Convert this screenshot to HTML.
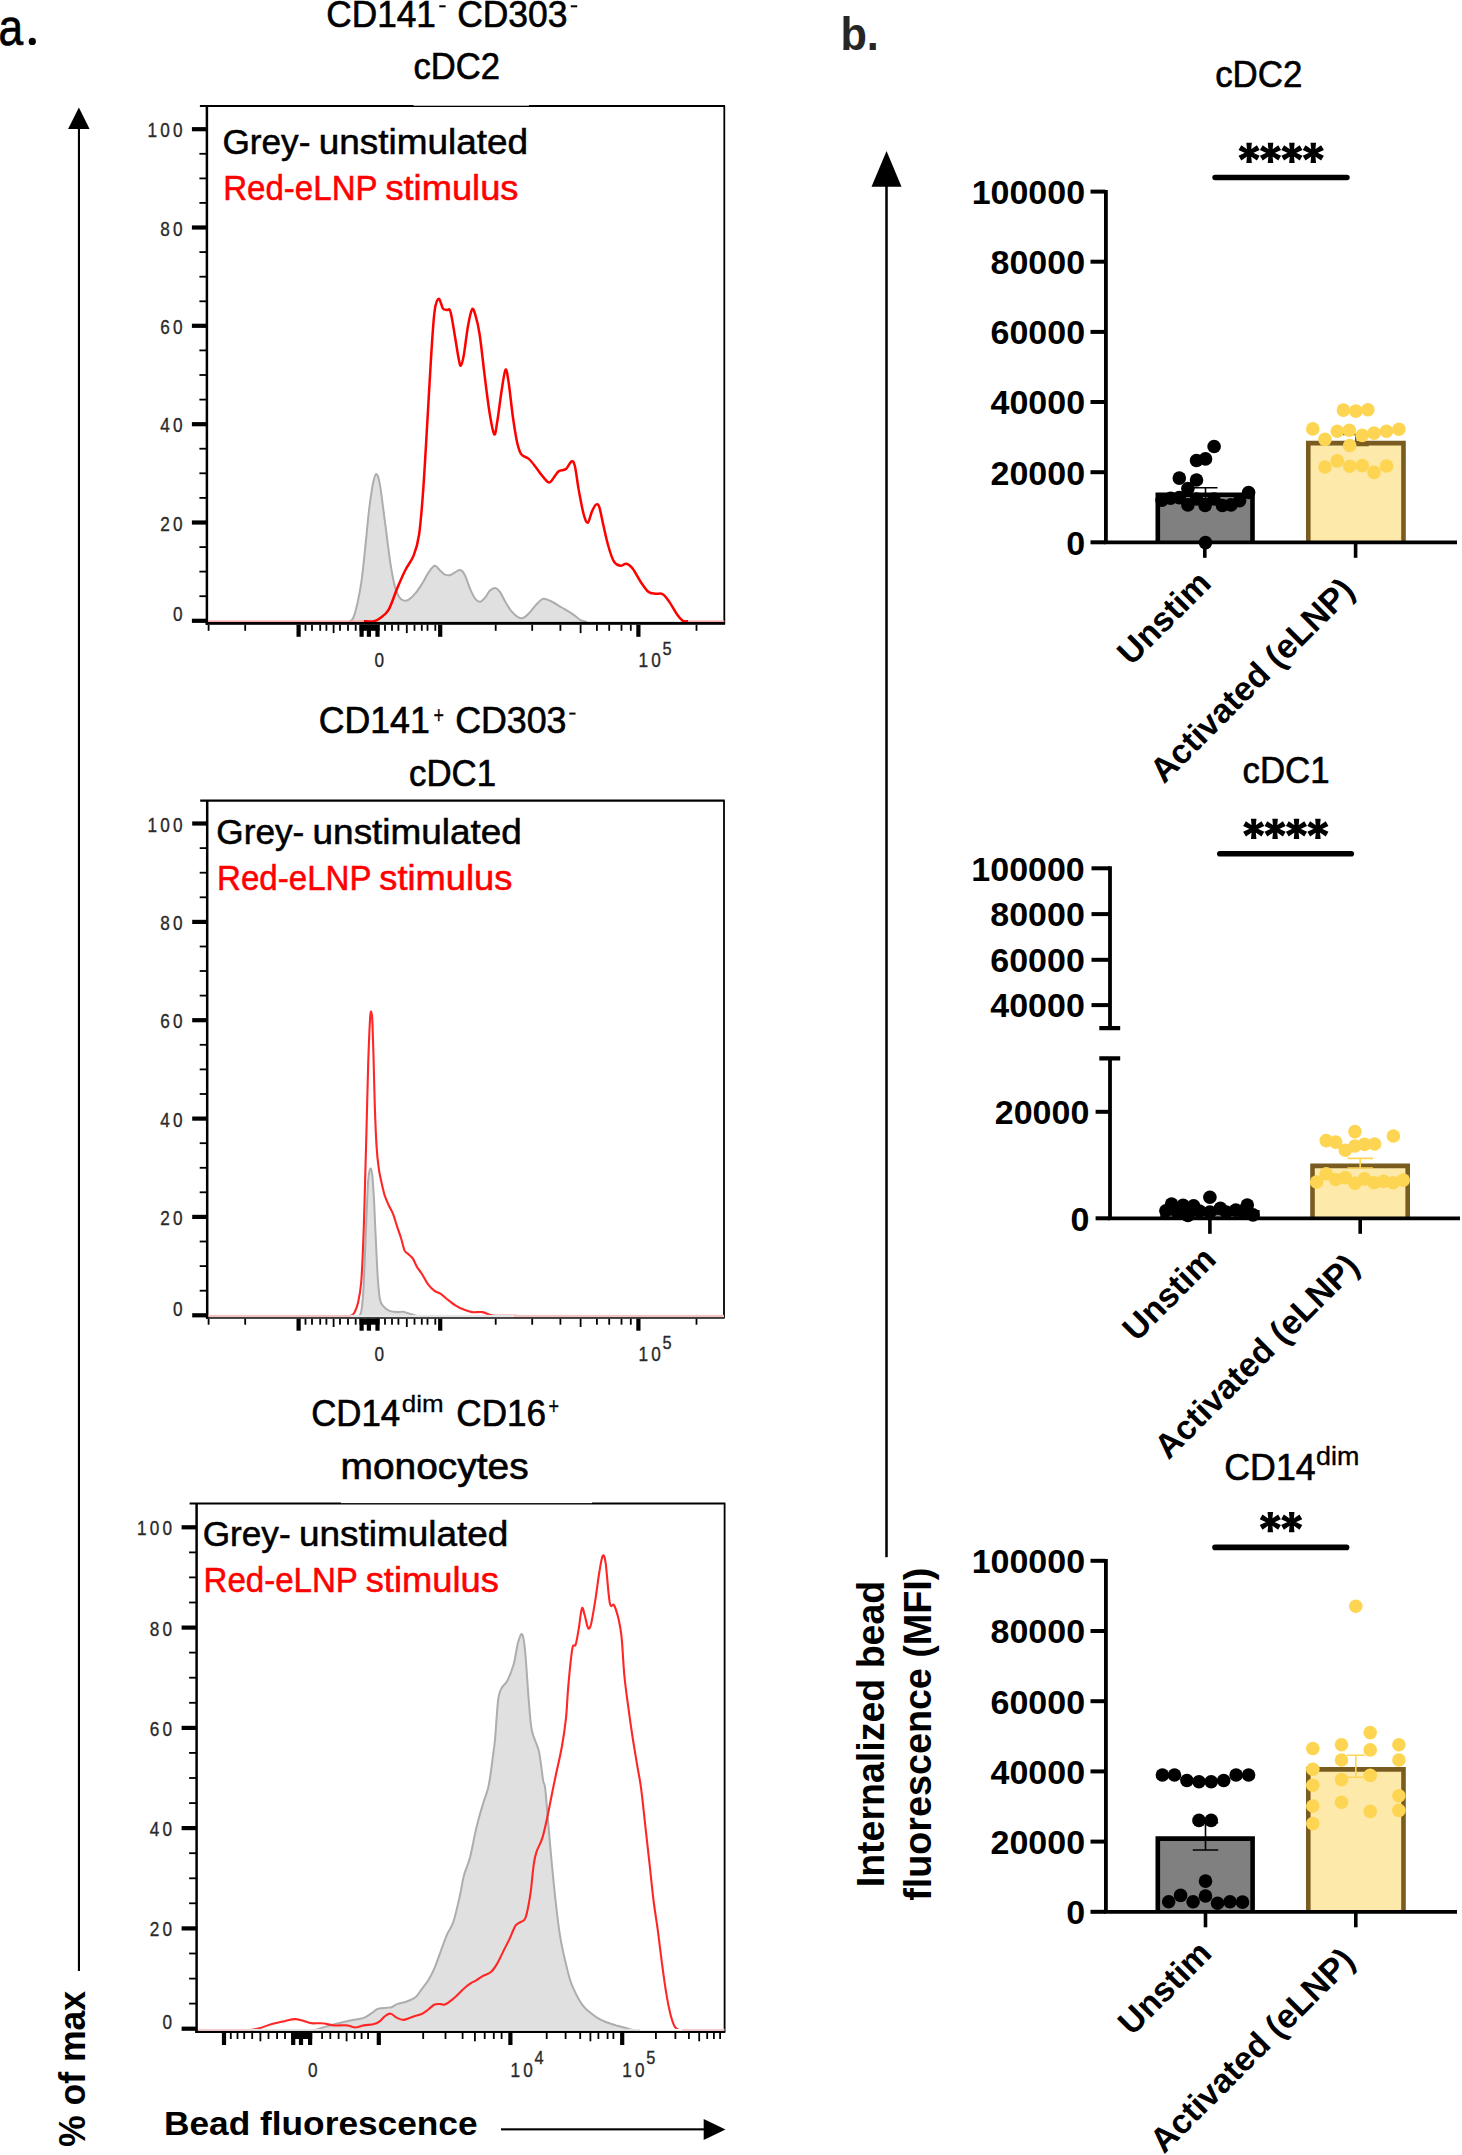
<!DOCTYPE html>
<html><head><meta charset="utf-8"><title>figure</title>
<style>html,body{margin:0;padding:0;background:#fff}svg{display:block}text{font-family:"Liberation Sans",sans-serif}</style></head><body>
<svg width="1462" height="2155" viewBox="0 0 1462 2155">
<rect width="1462" height="2155" fill="#fff"/>
<text transform="translate(-1.6,44.7) scale(0.86,1)" font-size="51.5" stroke="#000" stroke-width="0.7">a</text>
<circle cx="32.3" cy="41.4" r="3.6" fill="#000"/>
<text x="326.3" y="27.4" font-size="37.3" font-weight="normal" fill="#000" textLength="109.6" lengthAdjust="spacingAndGlyphs"  stroke="#000" stroke-width="0.65">CD141</text>
<rect x="439.3" y="5.3" width="6.3" height="2" fill="#000"/>
<text x="457.2" y="27.4" font-size="37.3" font-weight="normal" fill="#000" textLength="110.3" lengthAdjust="spacingAndGlyphs"  stroke="#000" stroke-width="0.65">CD303</text>
<rect x="570.8" y="5.3" width="6.4" height="2" fill="#000"/>
<text x="413.6" y="79.0" font-size="37.3" font-weight="normal" fill="#000" textLength="86.4" lengthAdjust="spacingAndGlyphs"  stroke="#000" stroke-width="0.65">cDC2</text>
<text x="318.7" y="733.2" font-size="37.3" font-weight="normal" fill="#000" textLength="111.1" lengthAdjust="spacingAndGlyphs"  stroke="#000" stroke-width="0.65">CD141</text>
<text x="433.5" y="723.0" font-size="24.0" font-weight="normal" fill="#000" textLength="10.5" lengthAdjust="spacingAndGlyphs"  stroke="#000" stroke-width="0.30">+</text>
<text x="455.2" y="733.2" font-size="37.3" font-weight="normal" fill="#000" textLength="111.3" lengthAdjust="spacingAndGlyphs"  stroke="#000" stroke-width="0.65">CD303</text>
<rect x="569.3" y="712.6" width="6.2" height="2" fill="#000"/>
<text x="409.0" y="786.0" font-size="37.3" font-weight="normal" fill="#000" textLength="87.0" lengthAdjust="spacingAndGlyphs"  stroke="#000" stroke-width="0.65">cDC1</text>
<text x="311.2" y="1426.1" font-size="37.3" font-weight="normal" fill="#000" textLength="89.0" lengthAdjust="spacingAndGlyphs"  stroke="#000" stroke-width="0.65">CD14</text>
<text x="401.8" y="1411.6" font-size="24.0" font-weight="normal" fill="#000" textLength="41.8" lengthAdjust="spacingAndGlyphs"  stroke="#000" stroke-width="0.30">dim</text>
<text x="456.3" y="1426.1" font-size="37.3" font-weight="normal" fill="#000" textLength="89.7" lengthAdjust="spacingAndGlyphs"  stroke="#000" stroke-width="0.65">CD16</text>
<text x="548.5" y="1414.0" font-size="24.0" font-weight="normal" fill="#000" textLength="10.5" lengthAdjust="spacingAndGlyphs"  stroke="#000" stroke-width="0.30">+</text>
<text x="340.5" y="1478.8" font-size="37.3" font-weight="normal" fill="#000" textLength="188.1" lengthAdjust="spacingAndGlyphs"  stroke="#000" stroke-width="0.65">monocytes</text>
<path d="M349.1,621.9 C349.7,621.2 351.8,621.1 353.2,618.0 C354.6,614.9 356.0,609.6 357.4,603.4 C358.8,597.1 360.2,590.5 361.6,580.4 C363.0,570.3 364.5,554.7 365.7,542.9 C367.0,531.0 367.9,519.2 369.1,509.5 C370.3,499.7 371.7,490.4 372.8,484.4 C374.0,478.5 375.1,474.4 376.2,474.0 C377.3,473.7 378.4,477.1 379.5,482.4 C380.6,487.6 381.7,496.6 382.8,505.3 C384.0,514.0 385.3,524.4 386.6,534.5 C387.9,544.6 389.4,557.1 390.8,565.8 C392.2,574.5 393.6,581.5 394.9,586.7 C396.3,591.9 397.7,594.8 399.1,597.1 C400.5,599.4 401.7,600.0 403.3,600.4 C404.9,600.9 406.6,600.9 408.7,599.6 C410.8,598.4 413.6,595.6 415.8,592.9 C418.0,590.3 420.0,587.1 422.1,583.8 C424.2,580.4 426.2,575.9 428.3,572.9 C430.4,569.9 432.7,566.3 434.6,565.8 C436.5,565.3 437.9,568.5 439.6,570.0 C441.3,571.4 443.2,573.7 445.0,574.6 C446.8,575.4 448.7,575.4 450.4,575.0 C452.2,574.6 453.8,572.9 455.4,572.1 C457.1,571.2 458.9,569.4 460.5,570.0 C462.1,570.5 463.4,572.3 465.0,575.4 C466.6,578.5 468.3,584.8 470.1,588.8 C471.8,592.7 473.7,597.0 475.5,599.2 C477.2,601.3 478.8,602.0 480.5,601.7 C482.2,601.3 484.0,598.9 485.5,597.1 C487.0,595.3 488.1,592.4 489.7,590.8 C491.3,589.3 493.3,587.7 495.1,587.9 C496.8,588.1 498.4,589.7 500.1,592.1 C501.8,594.5 503.6,598.8 505.5,602.1 C507.5,605.4 509.7,609.2 511.8,611.7 C513.9,614.2 516.2,616.1 518.0,617.1 C519.9,618.2 521.3,618.5 523.0,618.0 C524.8,617.4 526.4,615.9 528.5,613.8 C530.6,611.7 533.3,607.9 535.6,605.4 C537.9,603.0 540.3,600.2 542.2,599.2 C544.2,598.2 545.4,599.0 547.2,599.6 C549.1,600.2 551.1,601.2 553.5,602.5 C555.9,603.8 558.7,605.7 561.8,607.5 C565.0,609.4 569.1,611.7 572.3,613.8 C575.4,615.9 578.2,618.7 580.6,620.1 C583.1,621.4 585.8,621.6 586.9,621.9 Z" fill="#e0e0e0" stroke="none"/>
<path d="M349.1,621.9 C349.7,621.2 351.8,621.1 353.2,618.0 C354.6,614.9 356.0,609.6 357.4,603.4 C358.8,597.1 360.2,590.5 361.6,580.4 C363.0,570.3 364.5,554.7 365.7,542.9 C367.0,531.0 367.9,519.2 369.1,509.5 C370.3,499.7 371.7,490.4 372.8,484.4 C374.0,478.5 375.1,474.4 376.2,474.0 C377.3,473.7 378.4,477.1 379.5,482.4 C380.6,487.6 381.7,496.6 382.8,505.3 C384.0,514.0 385.3,524.4 386.6,534.5 C387.9,544.6 389.4,557.1 390.8,565.8 C392.2,574.5 393.6,581.5 394.9,586.7 C396.3,591.9 397.7,594.8 399.1,597.1 C400.5,599.4 401.7,600.0 403.3,600.4 C404.9,600.9 406.6,600.9 408.7,599.6 C410.8,598.4 413.6,595.6 415.8,592.9 C418.0,590.3 420.0,587.1 422.1,583.8 C424.2,580.4 426.2,575.9 428.3,572.9 C430.4,569.9 432.7,566.3 434.6,565.8 C436.5,565.3 437.9,568.5 439.6,570.0 C441.3,571.4 443.2,573.7 445.0,574.6 C446.8,575.4 448.7,575.4 450.4,575.0 C452.2,574.6 453.8,572.9 455.4,572.1 C457.1,571.2 458.9,569.4 460.5,570.0 C462.1,570.5 463.4,572.3 465.0,575.4 C466.6,578.5 468.3,584.8 470.1,588.8 C471.8,592.7 473.7,597.0 475.5,599.2 C477.2,601.3 478.8,602.0 480.5,601.7 C482.2,601.3 484.0,598.9 485.5,597.1 C487.0,595.3 488.1,592.4 489.7,590.8 C491.3,589.3 493.3,587.7 495.1,587.9 C496.8,588.1 498.4,589.7 500.1,592.1 C501.8,594.5 503.6,598.8 505.5,602.1 C507.5,605.4 509.7,609.2 511.8,611.7 C513.9,614.2 516.2,616.1 518.0,617.1 C519.9,618.2 521.3,618.5 523.0,618.0 C524.8,617.4 526.4,615.9 528.5,613.8 C530.6,611.7 533.3,607.9 535.6,605.4 C537.9,603.0 540.3,600.2 542.2,599.2 C544.2,598.2 545.4,599.0 547.2,599.6 C549.1,600.2 551.1,601.2 553.5,602.5 C555.9,603.8 558.7,605.7 561.8,607.5 C565.0,609.4 569.1,611.7 572.3,613.8 C575.4,615.9 578.2,618.7 580.6,620.1 C583.1,621.4 585.8,621.6 586.9,621.9" fill="none" stroke="#adadad" stroke-width="2.0" stroke-linejoin="round"/>
<path d="M363.7,621.2 C365.4,621.2 371.3,621.7 374.1,621.2 C376.9,620.7 377.9,619.9 380.3,618.0 C382.8,616.0 385.9,614.5 388.7,609.6 C391.5,604.8 394.3,595.4 397.0,588.8 C399.8,582.2 402.6,575.5 405.4,570.0 C408.2,564.4 411.4,561.3 413.7,555.4 C416.0,549.5 417.5,545.6 419.1,534.5 C420.7,523.4 422.0,506.7 423.3,488.6 C424.6,470.5 425.8,448.3 427.1,426.0 C428.4,403.8 430.0,374.2 431.2,355.1 C432.5,336.0 433.3,320.7 434.6,311.3 C435.8,301.9 437.4,299.3 438.8,298.8 C440.1,298.3 441.5,306.5 442.9,308.4 C444.3,310.2 445.9,309.6 447.1,310.0 C448.4,310.5 449.2,307.3 450.4,311.3 C451.7,315.3 453.2,326.2 454.6,334.2 C456.0,342.2 457.7,354.1 458.8,359.3 C459.8,364.5 460.0,366.2 460.9,365.5 C461.7,364.8 462.6,361.7 463.8,355.1 C465.0,348.5 466.6,333.5 468.0,325.9 C469.4,318.2 470.9,310.9 472.1,309.2 C473.4,307.5 474.2,311.3 475.5,315.5 C476.7,319.6 478.1,324.2 479.6,334.2 C481.2,344.3 483.0,362.8 484.7,376.0 C486.3,389.2 488.1,403.8 489.7,413.5 C491.3,423.3 493.0,433.0 494.3,434.4 C495.5,435.8 496.0,428.8 497.2,421.9 C498.4,414.9 500.0,401.3 501.3,392.7 C502.7,384.0 504.3,371.1 505.5,369.7 C506.8,368.3 507.6,376.3 508.9,384.3 C510.1,392.3 511.6,408.0 513.0,417.7 C514.4,427.4 515.8,436.6 517.2,442.7 C518.6,448.8 519.5,451.8 521.4,454.4 C523.2,457.0 526.2,456.7 528.5,458.6 C530.7,460.5 532.3,462.6 534.7,465.7 C537.2,468.7 540.6,474.2 543.1,476.9 C545.5,479.7 547.4,482.5 549.3,482.4 C551.3,482.2 553.2,478.0 554.8,476.1 C556.4,474.2 557.0,472.3 558.9,471.1 C560.8,469.9 563.9,470.6 566.0,469.0 C568.1,467.4 570.0,462.1 571.4,461.5 C572.9,460.9 573.6,461.2 574.8,465.7 C576.0,470.2 577.1,480.6 578.5,488.6 C580.0,496.6 582.0,508.0 583.5,513.7 C585.1,519.4 586.3,523.2 587.7,522.8 C589.1,522.5 590.5,514.6 591.9,511.6 C593.3,508.5 594.8,505.2 596.1,504.5 C597.3,503.8 598.1,503.8 599.4,507.4 C600.6,511.0 602.0,519.6 603.6,526.2 C605.1,532.8 606.8,541.1 608.6,547.0 C610.3,552.9 612.1,558.5 614.0,561.6 C615.9,564.8 618.2,565.5 620.3,565.8 C622.3,566.2 624.4,563.2 626.5,563.7 C628.6,564.2 630.3,565.6 632.8,568.7 C635.2,571.9 638.5,578.6 641.1,582.5 C643.8,586.4 646.2,590.2 648.6,592.1 C651.1,594.0 653.4,593.4 655.7,593.8 C658.1,594.1 660.5,592.8 662.8,594.2 C665.1,595.6 667.2,598.8 669.5,602.1 C671.8,605.4 674.4,610.7 676.6,613.8 C678.8,616.9 681.0,619.7 682.8,620.9 C684.7,622.1 687.0,621.1 687.9,621.2" fill="none" stroke="#ff0000" stroke-width="2.5" stroke-linejoin="round"/>
<path d="M199.9,106.0 H725.0" fill="none" stroke="#000" stroke-width="2.1"/>
<path d="M724.3,106.0 V623.4" fill="none" stroke="#000" stroke-width="1.8"/>
<path d="M206.9,106.0 V624.8" fill="none" stroke="#000" stroke-width="2.5"/>
<rect x="205.7" y="621.9" width="519.4" height="2.9" fill="#000"/>
<rect x="208.2" y="620.5" width="155.8" height="1.4" fill="#fa9f9f"/>
<rect x="688.0" y="620.5" width="36.3" height="1.4" fill="#fa9f9f"/>
<rect x="191.9" y="127.1" width="15" height="4.2" fill="#000"/>
<text transform="translate(147.6,137.2) scale(0.86,1)" font-size="20.0" fill="#2a2a2a" stroke="#2a2a2a" stroke-width="0.35" letter-spacing="3.6">100</text>
<rect x="199.4" y="152.9" width="7.5" height="1.8" fill="#000"/>
<rect x="199.4" y="177.5" width="7.5" height="1.8" fill="#000"/>
<rect x="199.4" y="202.0" width="7.5" height="1.8" fill="#000"/>
<rect x="191.9" y="225.4" width="15" height="4.2" fill="#000"/>
<text transform="translate(160.3,235.5) scale(0.86,1)" font-size="20.0" fill="#2a2a2a" stroke="#2a2a2a" stroke-width="0.35" letter-spacing="3.6">80</text>
<rect x="199.4" y="251.2" width="7.5" height="1.8" fill="#000"/>
<rect x="199.4" y="275.8" width="7.5" height="1.8" fill="#000"/>
<rect x="199.4" y="300.4" width="7.5" height="1.8" fill="#000"/>
<rect x="191.9" y="323.7" width="15" height="4.2" fill="#000"/>
<text transform="translate(160.3,333.8) scale(0.86,1)" font-size="20.0" fill="#2a2a2a" stroke="#2a2a2a" stroke-width="0.35" letter-spacing="3.6">60</text>
<rect x="199.4" y="349.5" width="7.5" height="1.8" fill="#000"/>
<rect x="199.4" y="374.1" width="7.5" height="1.8" fill="#000"/>
<rect x="199.4" y="398.7" width="7.5" height="1.8" fill="#000"/>
<rect x="191.9" y="422.1" width="15" height="4.2" fill="#000"/>
<text transform="translate(160.3,432.2) scale(0.86,1)" font-size="20.0" fill="#2a2a2a" stroke="#2a2a2a" stroke-width="0.35" letter-spacing="3.6">40</text>
<rect x="199.4" y="447.8" width="7.5" height="1.8" fill="#000"/>
<rect x="199.4" y="472.4" width="7.5" height="1.8" fill="#000"/>
<rect x="199.4" y="497.0" width="7.5" height="1.8" fill="#000"/>
<rect x="191.9" y="520.4" width="15" height="4.2" fill="#000"/>
<text transform="translate(160.3,530.5) scale(0.86,1)" font-size="20.0" fill="#2a2a2a" stroke="#2a2a2a" stroke-width="0.35" letter-spacing="3.6">20</text>
<rect x="199.4" y="546.2" width="7.5" height="1.8" fill="#000"/>
<rect x="199.4" y="570.7" width="7.5" height="1.8" fill="#000"/>
<rect x="199.4" y="595.3" width="7.5" height="1.8" fill="#000"/>
<rect x="191.9" y="618.7" width="15" height="4.2" fill="#000"/>
<text transform="translate(172.9,621.3) scale(0.86,1)" font-size="20.0" fill="#2a2a2a" stroke="#2a2a2a" stroke-width="0.35" letter-spacing="3.6">0</text>
<rect x="296.5" y="624.8" width="4.2" height="12" fill="#000"/>
<rect x="438.1" y="624.8" width="4.2" height="12" fill="#000"/>
<rect x="636.3" y="624.8" width="4.2" height="12" fill="#000"/>
<rect x="207.7" y="624.8" width="1.8" height="6" fill="#000"/>
<rect x="244.3" y="624.8" width="1.8" height="6" fill="#000"/>
<rect x="304.6" y="624.8" width="1.8" height="6" fill="#000"/>
<rect x="311.1" y="624.8" width="1.8" height="6" fill="#000"/>
<rect x="319.3" y="624.8" width="1.8" height="6" fill="#000"/>
<rect x="325.5" y="624.8" width="1.8" height="6" fill="#000"/>
<rect x="339.1" y="624.8" width="1.8" height="6" fill="#000"/>
<rect x="347.1" y="624.8" width="1.8" height="6" fill="#000"/>
<rect x="354.8" y="624.8" width="1.8" height="6" fill="#000"/>
<rect x="384.1" y="624.8" width="1.8" height="6" fill="#000"/>
<rect x="391.1" y="624.8" width="1.8" height="6" fill="#000"/>
<rect x="397.5" y="624.8" width="1.8" height="6" fill="#000"/>
<rect x="413.6" y="624.8" width="1.8" height="6" fill="#000"/>
<rect x="420.9" y="624.8" width="1.8" height="6" fill="#000"/>
<rect x="426.6" y="624.8" width="1.8" height="6" fill="#000"/>
<rect x="434.4" y="624.8" width="1.8" height="6" fill="#000"/>
<rect x="494.8" y="624.8" width="1.8" height="6" fill="#000"/>
<rect x="531.3" y="624.8" width="1.8" height="6" fill="#000"/>
<rect x="559.5" y="624.8" width="1.8" height="6" fill="#000"/>
<rect x="596.0" y="624.8" width="1.8" height="6" fill="#000"/>
<rect x="608.3" y="624.8" width="1.8" height="6" fill="#000"/>
<rect x="620.6" y="624.8" width="1.8" height="6" fill="#000"/>
<rect x="629.9" y="624.8" width="1.8" height="6" fill="#000"/>
<rect x="695.6" y="624.8" width="1.8" height="6" fill="#000"/>
<rect x="332.7" y="624.8" width="1.8" height="8.3" fill="#000"/>
<rect x="405.9" y="624.8" width="1.8" height="8.3" fill="#000"/>
<rect x="579.7" y="624.8" width="1.8" height="8.3" fill="#000"/>
<rect x="359.5" y="624.8" width="20.1" height="6" fill="#000"/>
<rect x="359.5" y="624.8" width="4.2" height="12" fill="#000"/>
<rect x="366.8" y="624.8" width="4.2" height="12" fill="#000"/>
<rect x="375.4" y="624.8" width="4.2" height="12" fill="#000"/>
<text transform="translate(374.5,667.0) scale(0.86,1)" font-size="20.0" fill="#2a2a2a" stroke="#2a2a2a" stroke-width="0.35" letter-spacing="3.6">0</text>
<text transform="translate(638.5,667.0) scale(0.86,1)" font-size="20.0" fill="#2a2a2a" stroke="#2a2a2a" stroke-width="0.35" letter-spacing="3.6">10</text>
<text transform="translate(662.5,654.7) scale(0.86,1)" font-size="19.0" fill="#2a2a2a" stroke="#2a2a2a" stroke-width="0.35" letter-spacing="3.6">5</text>
<path d="M358.6,1316.3 C359.1,1315.5 360.4,1315.6 361.2,1311.7 C361.9,1307.8 362.6,1302.3 363.2,1292.9 C363.9,1283.5 364.4,1268.6 364.9,1255.4 C365.5,1242.2 366.0,1226.2 366.6,1213.7 C367.1,1201.1 367.6,1187.8 368.2,1180.3 C368.9,1172.8 369.6,1169.3 370.3,1168.6 C371.0,1167.9 371.8,1170.7 372.4,1176.1 C373.0,1181.5 373.5,1190.7 374.1,1201.1 C374.6,1211.6 375.1,1225.8 375.8,1238.7 C376.4,1251.6 377.1,1268.2 377.8,1278.3 C378.5,1288.4 379.0,1294.5 379.9,1299.2 C380.9,1303.9 382.1,1304.8 383.7,1306.7 C385.3,1308.6 387.3,1310.0 389.5,1310.9 C391.7,1311.8 394.7,1312.0 397.0,1312.1 C399.3,1312.3 401.2,1311.4 403.3,1311.7 C405.4,1312.0 407.1,1313.0 409.6,1313.8 C412.0,1314.6 416.5,1315.9 417.9,1316.3 Z" fill="#e0e0e0" stroke="none"/>
<path d="M358.6,1316.3 C359.1,1315.5 360.4,1315.6 361.2,1311.7 C361.9,1307.8 362.6,1302.3 363.2,1292.9 C363.9,1283.5 364.4,1268.6 364.9,1255.4 C365.5,1242.2 366.0,1226.2 366.6,1213.7 C367.1,1201.1 367.6,1187.8 368.2,1180.3 C368.9,1172.8 369.6,1169.3 370.3,1168.6 C371.0,1167.9 371.8,1170.7 372.4,1176.1 C373.0,1181.5 373.5,1190.7 374.1,1201.1 C374.6,1211.6 375.1,1225.8 375.8,1238.7 C376.4,1251.6 377.1,1268.2 377.8,1278.3 C378.5,1288.4 379.0,1294.5 379.9,1299.2 C380.9,1303.9 382.1,1304.8 383.7,1306.7 C385.3,1308.6 387.3,1310.0 389.5,1310.9 C391.7,1311.8 394.7,1312.0 397.0,1312.1 C399.3,1312.3 401.2,1311.4 403.3,1311.7 C405.4,1312.0 407.1,1313.0 409.6,1313.8 C412.0,1314.6 416.5,1315.9 417.9,1316.3" fill="none" stroke="#adadad" stroke-width="2.0" stroke-linejoin="round"/>
<path d="M344.9,1316.1 C345.8,1316.1 348.7,1316.7 350.3,1316.1 C351.9,1315.5 353.2,1314.9 354.5,1312.5 C355.8,1310.2 357.1,1307.1 358.2,1302.1 C359.3,1297.1 360.3,1292.4 361.2,1282.5 C362.0,1272.6 362.6,1258.5 363.2,1242.9 C363.9,1227.2 364.4,1208.1 364.9,1188.6 C365.5,1169.1 366.0,1146.9 366.6,1126.0 C367.1,1105.2 367.7,1080.8 368.2,1063.4 C368.8,1046.1 369.4,1030.4 369.9,1021.7 C370.4,1013.0 370.7,1011.3 371.2,1011.3 C371.6,1011.3 372.0,1013.0 372.4,1021.7 C372.8,1030.4 373.3,1048.8 373.7,1063.4 C374.1,1078.1 374.4,1095.4 374.9,1109.3 C375.4,1123.3 376.0,1137.2 376.6,1146.9 C377.2,1156.6 377.9,1162.1 378.7,1167.8 C379.4,1173.5 380.2,1176.6 381.2,1181.1 C382.2,1185.6 383.3,1190.8 384.5,1194.9 C385.8,1198.9 387.3,1202.2 388.7,1205.3 C390.1,1208.4 391.5,1210.2 392.9,1213.7 C394.3,1217.1 395.6,1222.0 397.0,1226.2 C398.4,1230.3 400.0,1234.7 401.2,1238.7 C402.5,1242.7 403.3,1247.7 404.5,1250.4 C405.8,1253.0 407.3,1253.2 408.7,1254.5 C410.1,1255.9 411.5,1256.6 412.9,1258.7 C414.3,1260.8 415.5,1264.5 417.1,1267.1 C418.6,1269.6 420.2,1271.2 422.1,1274.2 C423.9,1277.1 426.2,1281.8 428.3,1284.6 C430.4,1287.4 432.5,1289.3 434.6,1290.8 C436.7,1292.4 438.8,1292.4 440.8,1293.8 C442.9,1295.2 444.7,1297.2 447.1,1299.2 C449.5,1301.1 452.7,1303.7 455.4,1305.4 C458.2,1307.2 461.0,1308.5 463.8,1309.6 C466.6,1310.7 469.0,1311.7 472.1,1312.1 C475.3,1312.5 479.1,1311.6 482.6,1312.1 C486.0,1312.7 487.8,1314.8 493.0,1315.5 C498.2,1316.1 509.0,1315.8 513.9,1315.9 C518.7,1316.0 520.8,1316.1 522.2,1316.1" fill="none" stroke="#ff2626" stroke-width="2.1" stroke-linejoin="round"/>
<path d="M200.2,800.6 H724.7" fill="none" stroke="#000" stroke-width="2.1"/>
<path d="M724.0,800.6 V1317.5" fill="none" stroke="#000" stroke-width="1.8"/>
<path d="M207.2,800.6 V1318.7" fill="none" stroke="#000" stroke-width="2.5"/>
<rect x="205.9" y="1316.2" width="518.8" height="2.5" fill="#000"/>
<rect x="208.4" y="1314.9" width="142.6" height="2.4" fill="#f1c4c4"/>
<rect x="351.0" y="1314.9" width="163.0" height="2.4" fill="#e6e6e6"/>
<rect x="514.0" y="1314.9" width="210.0" height="2.4" fill="#f1c4c4"/>
<rect x="192.2" y="821.4" width="15" height="4.2" fill="#000"/>
<text transform="translate(147.6,831.5) scale(0.86,1)" font-size="20.0" fill="#2a2a2a" stroke="#2a2a2a" stroke-width="0.35" letter-spacing="3.6">100</text>
<rect x="199.7" y="847.2" width="7.5" height="1.8" fill="#000"/>
<rect x="199.7" y="871.8" width="7.5" height="1.8" fill="#000"/>
<rect x="199.7" y="896.4" width="7.5" height="1.8" fill="#000"/>
<rect x="192.2" y="919.8" width="15" height="4.2" fill="#000"/>
<text transform="translate(160.3,929.9) scale(0.86,1)" font-size="20.0" fill="#2a2a2a" stroke="#2a2a2a" stroke-width="0.35" letter-spacing="3.6">80</text>
<rect x="199.7" y="945.6" width="7.5" height="1.8" fill="#000"/>
<rect x="199.7" y="970.1" width="7.5" height="1.8" fill="#000"/>
<rect x="199.7" y="994.7" width="7.5" height="1.8" fill="#000"/>
<rect x="192.2" y="1018.1" width="15" height="4.2" fill="#000"/>
<text transform="translate(160.3,1028.2) scale(0.86,1)" font-size="20.0" fill="#2a2a2a" stroke="#2a2a2a" stroke-width="0.35" letter-spacing="3.6">60</text>
<rect x="199.7" y="1043.9" width="7.5" height="1.8" fill="#000"/>
<rect x="199.7" y="1068.5" width="7.5" height="1.8" fill="#000"/>
<rect x="199.7" y="1093.1" width="7.5" height="1.8" fill="#000"/>
<rect x="192.2" y="1116.5" width="15" height="4.2" fill="#000"/>
<text transform="translate(160.3,1126.6) scale(0.86,1)" font-size="20.0" fill="#2a2a2a" stroke="#2a2a2a" stroke-width="0.35" letter-spacing="3.6">40</text>
<rect x="199.7" y="1142.3" width="7.5" height="1.8" fill="#000"/>
<rect x="199.7" y="1166.9" width="7.5" height="1.8" fill="#000"/>
<rect x="199.7" y="1191.4" width="7.5" height="1.8" fill="#000"/>
<rect x="192.2" y="1214.8" width="15" height="4.2" fill="#000"/>
<text transform="translate(160.3,1224.9) scale(0.86,1)" font-size="20.0" fill="#2a2a2a" stroke="#2a2a2a" stroke-width="0.35" letter-spacing="3.6">20</text>
<rect x="199.7" y="1240.6" width="7.5" height="1.8" fill="#000"/>
<rect x="199.7" y="1265.2" width="7.5" height="1.8" fill="#000"/>
<rect x="199.7" y="1289.8" width="7.5" height="1.8" fill="#000"/>
<rect x="192.2" y="1313.2" width="15" height="4.2" fill="#000"/>
<text transform="translate(172.9,1315.8) scale(0.86,1)" font-size="20.0" fill="#2a2a2a" stroke="#2a2a2a" stroke-width="0.35" letter-spacing="3.6">0</text>
<rect x="296.5" y="1318.7" width="4.2" height="12" fill="#000"/>
<rect x="438.1" y="1318.7" width="4.2" height="12" fill="#000"/>
<rect x="636.3" y="1318.7" width="4.2" height="12" fill="#000"/>
<rect x="207.7" y="1318.7" width="1.8" height="6" fill="#000"/>
<rect x="244.3" y="1318.7" width="1.8" height="6" fill="#000"/>
<rect x="304.6" y="1318.7" width="1.8" height="6" fill="#000"/>
<rect x="311.1" y="1318.7" width="1.8" height="6" fill="#000"/>
<rect x="319.3" y="1318.7" width="1.8" height="6" fill="#000"/>
<rect x="325.5" y="1318.7" width="1.8" height="6" fill="#000"/>
<rect x="339.1" y="1318.7" width="1.8" height="6" fill="#000"/>
<rect x="347.1" y="1318.7" width="1.8" height="6" fill="#000"/>
<rect x="354.8" y="1318.7" width="1.8" height="6" fill="#000"/>
<rect x="384.1" y="1318.7" width="1.8" height="6" fill="#000"/>
<rect x="391.1" y="1318.7" width="1.8" height="6" fill="#000"/>
<rect x="397.5" y="1318.7" width="1.8" height="6" fill="#000"/>
<rect x="413.6" y="1318.7" width="1.8" height="6" fill="#000"/>
<rect x="420.9" y="1318.7" width="1.8" height="6" fill="#000"/>
<rect x="426.6" y="1318.7" width="1.8" height="6" fill="#000"/>
<rect x="434.4" y="1318.7" width="1.8" height="6" fill="#000"/>
<rect x="494.8" y="1318.7" width="1.8" height="6" fill="#000"/>
<rect x="531.3" y="1318.7" width="1.8" height="6" fill="#000"/>
<rect x="559.5" y="1318.7" width="1.8" height="6" fill="#000"/>
<rect x="596.0" y="1318.7" width="1.8" height="6" fill="#000"/>
<rect x="608.3" y="1318.7" width="1.8" height="6" fill="#000"/>
<rect x="620.6" y="1318.7" width="1.8" height="6" fill="#000"/>
<rect x="629.9" y="1318.7" width="1.8" height="6" fill="#000"/>
<rect x="695.6" y="1318.7" width="1.8" height="6" fill="#000"/>
<rect x="332.7" y="1318.7" width="1.8" height="8.3" fill="#000"/>
<rect x="405.9" y="1318.7" width="1.8" height="8.3" fill="#000"/>
<rect x="579.7" y="1318.7" width="1.8" height="8.3" fill="#000"/>
<rect x="359.5" y="1318.7" width="20.1" height="6" fill="#000"/>
<rect x="359.5" y="1318.7" width="4.2" height="12" fill="#000"/>
<rect x="366.8" y="1318.7" width="4.2" height="12" fill="#000"/>
<rect x="375.4" y="1318.7" width="4.2" height="12" fill="#000"/>
<text transform="translate(374.5,1361.3) scale(0.86,1)" font-size="20.0" fill="#2a2a2a" stroke="#2a2a2a" stroke-width="0.35" letter-spacing="3.6">0</text>
<text transform="translate(638.5,1361.3) scale(0.86,1)" font-size="20.0" fill="#2a2a2a" stroke="#2a2a2a" stroke-width="0.35" letter-spacing="3.6">10</text>
<text transform="translate(662.5,1349.0) scale(0.86,1)" font-size="19.0" fill="#2a2a2a" stroke="#2a2a2a" stroke-width="0.35" letter-spacing="3.6">5</text>
<path d="M313.6,2030.4 C316.4,2029.5 324.7,2026.9 330.3,2025.4 C335.8,2023.8 341.4,2022.5 347.0,2021.2 C352.5,2019.9 359.5,2019.3 363.7,2017.9 C367.8,2016.5 369.6,2014.4 372.0,2012.9 C374.4,2011.3 375.1,2009.6 378.3,2008.7 C381.4,2007.8 387.6,2008.2 390.8,2007.4 C393.9,2006.7 394.3,2005.1 397.0,2004.1 C399.8,2003.0 404.3,2002.4 407.5,2001.2 C410.6,2000.0 413.4,1999.1 415.8,1997.0 C418.2,1994.9 420.0,1991.4 422.1,1988.7 C424.2,1985.9 426.2,1983.8 428.3,1980.3 C430.4,1976.8 432.5,1972.7 434.6,1967.8 C436.7,1962.9 438.8,1956.7 440.8,1951.1 C442.9,1945.5 445.0,1939.3 447.1,1934.4 C449.2,1929.5 451.3,1928.2 453.4,1921.9 C455.4,1915.6 457.9,1904.5 459.6,1896.9 C461.4,1889.2 462.1,1882.6 463.8,1876.0 C465.5,1869.4 468.0,1865.2 470.1,1857.2 C472.1,1849.2 474.2,1836.7 476.3,1828.0 C478.4,1819.3 480.6,1811.7 482.6,1805.1 C484.5,1798.5 486.6,1793.9 488.0,1788.4 C489.4,1782.8 490.1,1777.2 490.9,1771.7 C491.7,1766.2 492.3,1760.8 493.0,1755.3 C493.7,1749.8 494.3,1747.7 495.1,1738.6 C495.9,1729.6 497.0,1709.4 498.0,1701.1 C499.0,1692.7 499.7,1692.0 501.3,1688.6 C502.9,1685.1 505.5,1684.4 507.6,1680.2 C509.7,1676.0 512.1,1669.8 513.9,1663.5 C515.6,1657.3 516.6,1647.5 518.0,1642.7 C519.4,1637.8 521.0,1632.9 522.2,1634.3 C523.4,1635.7 524.1,1640.6 525.1,1651.0 C526.2,1661.4 527.4,1683.7 528.5,1696.9 C529.6,1710.1 530.1,1721.2 531.8,1730.3 C533.5,1739.3 537.0,1742.8 538.9,1751.1 C540.8,1759.5 542.0,1774.1 543.1,1780.3 C544.1,1786.6 544.3,1780.8 545.2,1788.4 C546.1,1796.0 547.4,1814.1 548.5,1825.9 C549.5,1837.8 550.2,1846.8 551.4,1859.3 C552.6,1871.8 554.2,1888.5 555.6,1901.0 C557.0,1913.6 558.4,1925.4 559.8,1934.4 C561.1,1943.5 562.2,1947.6 563.9,1955.3 C565.7,1962.9 568.1,1973.7 570.2,1980.3 C572.3,1986.9 574.4,1990.7 576.4,1994.9 C578.5,1999.1 580.6,2002.6 582.7,2005.3 C584.8,2008.1 586.5,2009.5 589.0,2011.6 C591.4,2013.7 594.5,2016.1 597.3,2017.9 C600.1,2019.6 602.5,2020.8 605.7,2022.0 C608.8,2023.3 612.6,2024.3 616.1,2025.4 C619.6,2026.4 623.4,2027.5 626.5,2028.3 C629.6,2029.1 633.5,2030.0 634.9,2030.4 Z" fill="#e0e0e0" stroke="none"/>
<path d="M313.6,2030.4 C316.4,2029.5 324.7,2026.9 330.3,2025.4 C335.8,2023.8 341.4,2022.5 347.0,2021.2 C352.5,2019.9 359.5,2019.3 363.7,2017.9 C367.8,2016.5 369.6,2014.4 372.0,2012.9 C374.4,2011.3 375.1,2009.6 378.3,2008.7 C381.4,2007.8 387.6,2008.2 390.8,2007.4 C393.9,2006.7 394.3,2005.1 397.0,2004.1 C399.8,2003.0 404.3,2002.4 407.5,2001.2 C410.6,2000.0 413.4,1999.1 415.8,1997.0 C418.2,1994.9 420.0,1991.4 422.1,1988.7 C424.2,1985.9 426.2,1983.8 428.3,1980.3 C430.4,1976.8 432.5,1972.7 434.6,1967.8 C436.7,1962.9 438.8,1956.7 440.8,1951.1 C442.9,1945.5 445.0,1939.3 447.1,1934.4 C449.2,1929.5 451.3,1928.2 453.4,1921.9 C455.4,1915.6 457.9,1904.5 459.6,1896.9 C461.4,1889.2 462.1,1882.6 463.8,1876.0 C465.5,1869.4 468.0,1865.2 470.1,1857.2 C472.1,1849.2 474.2,1836.7 476.3,1828.0 C478.4,1819.3 480.6,1811.7 482.6,1805.1 C484.5,1798.5 486.6,1793.9 488.0,1788.4 C489.4,1782.8 490.1,1777.2 490.9,1771.7 C491.7,1766.2 492.3,1760.8 493.0,1755.3 C493.7,1749.8 494.3,1747.7 495.1,1738.6 C495.9,1729.6 497.0,1709.4 498.0,1701.1 C499.0,1692.7 499.7,1692.0 501.3,1688.6 C502.9,1685.1 505.5,1684.4 507.6,1680.2 C509.7,1676.0 512.1,1669.8 513.9,1663.5 C515.6,1657.3 516.6,1647.5 518.0,1642.7 C519.4,1637.8 521.0,1632.9 522.2,1634.3 C523.4,1635.7 524.1,1640.6 525.1,1651.0 C526.2,1661.4 527.4,1683.7 528.5,1696.9 C529.6,1710.1 530.1,1721.2 531.8,1730.3 C533.5,1739.3 537.0,1742.8 538.9,1751.1 C540.8,1759.5 542.0,1774.1 543.1,1780.3 C544.1,1786.6 544.3,1780.8 545.2,1788.4 C546.1,1796.0 547.4,1814.1 548.5,1825.9 C549.5,1837.8 550.2,1846.8 551.4,1859.3 C552.6,1871.8 554.2,1888.5 555.6,1901.0 C557.0,1913.6 558.4,1925.4 559.8,1934.4 C561.1,1943.5 562.2,1947.6 563.9,1955.3 C565.7,1962.9 568.1,1973.7 570.2,1980.3 C572.3,1986.9 574.4,1990.7 576.4,1994.9 C578.5,1999.1 580.6,2002.6 582.7,2005.3 C584.8,2008.1 586.5,2009.5 589.0,2011.6 C591.4,2013.7 594.5,2016.1 597.3,2017.9 C600.1,2019.6 602.5,2020.8 605.7,2022.0 C608.8,2023.3 612.6,2024.3 616.1,2025.4 C619.6,2026.4 623.4,2027.5 626.5,2028.3 C629.6,2029.1 633.5,2030.0 634.9,2030.4" fill="none" stroke="#adadad" stroke-width="2.0" stroke-linejoin="round"/>
<path d="M251.0,2029.8 C252.4,2029.5 255.9,2029.2 259.3,2028.3 C262.8,2027.3 267.7,2025.3 271.9,2024.1 C276.0,2022.9 280.6,2022.0 284.4,2021.2 C288.2,2020.4 291.7,2019.2 294.8,2019.1 C297.9,2019.0 300.4,2020.1 303.2,2020.8 C305.9,2021.5 308.4,2022.9 311.5,2023.3 C314.6,2023.7 318.1,2022.9 321.9,2023.3 C325.8,2023.6 330.3,2025.0 334.4,2025.4 C338.6,2025.7 343.5,2025.0 347.0,2025.4 C350.4,2025.7 352.5,2027.5 355.3,2027.5 C358.1,2027.5 360.5,2025.9 363.7,2025.4 C366.8,2024.8 371.3,2024.9 374.1,2024.1 C376.9,2023.4 378.5,2022.2 380.3,2020.8 C382.2,2019.4 383.6,2017.0 385.4,2015.8 C387.1,2014.6 388.8,2013.3 390.8,2013.7 C392.7,2014.0 394.9,2016.8 397.0,2017.9 C399.1,2018.9 401.2,2019.9 403.3,2019.9 C405.4,2019.9 407.5,2018.6 409.6,2017.9 C411.6,2017.2 413.7,2016.5 415.8,2015.8 C417.9,2015.1 420.0,2014.7 422.1,2013.7 C424.2,2012.6 426.2,2011.0 428.3,2009.5 C430.4,2008.0 432.5,2005.4 434.6,2004.5 C436.7,2003.6 439.1,2004.1 440.8,2004.1 C442.6,2004.1 443.3,2005.1 445.0,2004.5 C446.8,2003.9 449.2,2001.9 451.3,2000.3 C453.4,1998.7 455.4,1996.9 457.5,1994.9 C459.6,1993.0 461.7,1990.5 463.8,1988.7 C465.9,1986.8 468.0,1985.0 470.1,1983.6 C472.1,1982.3 474.2,1981.6 476.3,1980.3 C478.4,1979.1 480.1,1977.5 482.6,1976.1 C485.0,1974.7 488.5,1974.1 490.9,1972.0 C493.3,1969.9 495.1,1967.1 497.2,1963.6 C499.3,1960.1 501.3,1955.3 503.4,1951.1 C505.5,1946.9 507.6,1942.9 509.7,1938.6 C511.8,1934.3 513.5,1928.4 515.9,1925.2 C518.4,1922.1 522.4,1922.1 524.3,1919.8 C526.2,1917.5 526.2,1916.0 527.2,1911.5 C528.3,1906.9 529.4,1900.7 530.6,1892.7 C531.7,1884.7 532.8,1870.4 533.9,1863.5 C534.9,1856.5 535.4,1855.1 536.8,1851.0 C538.2,1846.8 540.5,1844.0 542.2,1838.4 C544.0,1832.9 545.7,1824.5 547.2,1817.6 C548.8,1810.6 550.0,1803.6 551.4,1796.7 C552.8,1789.8 553.8,1784.5 555.6,1776.2 C557.3,1767.9 560.1,1756.7 561.8,1747.0 C563.6,1737.2 565.0,1727.5 566.0,1717.8 C567.1,1708.0 567.1,1700.0 568.1,1688.6 C569.1,1677.1 571.0,1656.2 572.3,1648.9 C573.5,1641.6 574.6,1647.9 575.6,1644.7 C576.7,1641.6 577.5,1636.2 578.5,1630.1 C579.6,1624.1 580.8,1610.9 581.9,1608.4 C582.9,1606.0 583.7,1612.3 584.8,1615.5 C585.8,1618.8 587.1,1626.7 588.1,1628.1 C589.2,1629.4 589.9,1628.4 591.1,1623.9 C592.2,1619.4 593.8,1609.6 595.2,1600.9 C596.6,1592.2 598.1,1579.2 599.4,1571.7 C600.6,1564.2 601.7,1557.3 602.7,1555.9 C603.8,1554.5 604.5,1555.5 605.7,1563.4 C606.8,1571.2 608.4,1596.1 609.8,1603.0 C611.2,1610.0 612.6,1602.7 614.0,1605.1 C615.4,1607.5 616.9,1612.4 618.2,1617.6 C619.4,1622.8 620.5,1626.7 621.5,1636.4 C622.6,1646.1 623.2,1663.9 624.4,1676.0 C625.6,1688.2 627.2,1699.0 628.6,1709.4 C630.0,1719.8 631.4,1729.6 632.8,1738.6 C634.2,1747.7 635.6,1755.4 636.9,1763.7 C638.3,1771.9 639.7,1778.0 641.1,1788.4 C642.5,1798.8 643.9,1813.4 645.3,1825.9 C646.7,1838.4 648.1,1851.0 649.5,1863.5 C650.9,1876.0 652.2,1889.9 653.6,1901.0 C655.0,1912.2 656.4,1919.8 657.8,1930.2 C659.2,1940.7 660.6,1953.2 662.0,1963.6 C663.4,1974.1 664.8,1984.5 666.2,1992.8 C667.5,2001.2 668.9,2008.1 670.3,2013.7 C671.7,2019.3 673.1,2023.5 674.5,2026.2 C675.9,2028.9 678.0,2029.2 678.7,2029.8" fill="none" stroke="#ff2626" stroke-width="2.1" stroke-linejoin="round"/>
<path d="M189.6,1503.5 H725.3" fill="none" stroke="#000" stroke-width="2.1"/>
<path d="M724.6,1503.5 V2031.8" fill="none" stroke="#000" stroke-width="1.8"/>
<path d="M196.6,1503.5 V2033.0" fill="none" stroke="#000" stroke-width="2.5"/>
<rect x="195.3" y="2030.7" width="530.0" height="2.3" fill="#000"/>
<rect x="198.0" y="2028.9" width="52.0" height="1.8" fill="#f7cccc"/>
<rect x="250.0" y="2028.9" width="390.0" height="1.8" fill="#e4e4e4"/>
<rect x="640.0" y="2028.9" width="42.0" height="1.8" fill="#fff"/>
<rect x="682.0" y="2028.9" width="42.6" height="1.8" fill="#f7cccc"/>
<rect x="181.6" y="1525.2" width="15" height="4.2" fill="#000"/>
<text transform="translate(137.1,1535.3) scale(0.86,1)" font-size="20.0" fill="#2a2a2a" stroke="#2a2a2a" stroke-width="0.35" letter-spacing="3.6">100</text>
<rect x="189.1" y="1551.5" width="7.5" height="1.8" fill="#000"/>
<rect x="189.1" y="1576.5" width="7.5" height="1.8" fill="#000"/>
<rect x="189.1" y="1601.6" width="7.5" height="1.8" fill="#000"/>
<rect x="181.6" y="1625.5" width="15" height="4.2" fill="#000"/>
<text transform="translate(149.8,1635.6) scale(0.86,1)" font-size="20.0" fill="#2a2a2a" stroke="#2a2a2a" stroke-width="0.35" letter-spacing="3.6">80</text>
<rect x="189.1" y="1651.7" width="7.5" height="1.8" fill="#000"/>
<rect x="189.1" y="1676.8" width="7.5" height="1.8" fill="#000"/>
<rect x="189.1" y="1701.9" width="7.5" height="1.8" fill="#000"/>
<rect x="181.6" y="1725.8" width="15" height="4.2" fill="#000"/>
<text transform="translate(149.8,1735.9) scale(0.86,1)" font-size="20.0" fill="#2a2a2a" stroke="#2a2a2a" stroke-width="0.35" letter-spacing="3.6">60</text>
<rect x="189.1" y="1752.0" width="7.5" height="1.8" fill="#000"/>
<rect x="189.1" y="1777.1" width="7.5" height="1.8" fill="#000"/>
<rect x="189.1" y="1802.2" width="7.5" height="1.8" fill="#000"/>
<rect x="181.6" y="1826.0" width="15" height="4.2" fill="#000"/>
<text transform="translate(149.8,1836.1) scale(0.86,1)" font-size="20.0" fill="#2a2a2a" stroke="#2a2a2a" stroke-width="0.35" letter-spacing="3.6">40</text>
<rect x="189.1" y="1852.3" width="7.5" height="1.8" fill="#000"/>
<rect x="189.1" y="1877.4" width="7.5" height="1.8" fill="#000"/>
<rect x="189.1" y="1902.4" width="7.5" height="1.8" fill="#000"/>
<rect x="181.6" y="1926.3" width="15" height="4.2" fill="#000"/>
<text transform="translate(149.8,1936.4) scale(0.86,1)" font-size="20.0" fill="#2a2a2a" stroke="#2a2a2a" stroke-width="0.35" letter-spacing="3.6">20</text>
<rect x="189.1" y="1952.6" width="7.5" height="1.8" fill="#000"/>
<rect x="189.1" y="1977.7" width="7.5" height="1.8" fill="#000"/>
<rect x="189.1" y="2002.7" width="7.5" height="1.8" fill="#000"/>
<rect x="181.6" y="2026.6" width="15" height="4.2" fill="#000"/>
<text transform="translate(162.4,2029.2) scale(0.86,1)" font-size="20.0" fill="#2a2a2a" stroke="#2a2a2a" stroke-width="0.35" letter-spacing="3.6">0</text>
<rect x="221.9" y="2033.0" width="4.2" height="12" fill="#000"/>
<rect x="376.7" y="2033.0" width="4.2" height="12" fill="#000"/>
<rect x="508.3" y="2033.0" width="4.2" height="12" fill="#000"/>
<rect x="620.1" y="2033.0" width="4.2" height="12" fill="#000"/>
<rect x="229.9" y="2033.0" width="1.8" height="6" fill="#000"/>
<rect x="236.6" y="2033.0" width="1.8" height="6" fill="#000"/>
<rect x="243.3" y="2033.0" width="1.8" height="6" fill="#000"/>
<rect x="251.3" y="2033.0" width="1.8" height="6" fill="#000"/>
<rect x="267.6" y="2033.0" width="1.8" height="6" fill="#000"/>
<rect x="276.2" y="2033.0" width="1.8" height="6" fill="#000"/>
<rect x="284.1" y="2033.0" width="1.8" height="6" fill="#000"/>
<rect x="321.2" y="2033.0" width="1.8" height="6" fill="#000"/>
<rect x="329.4" y="2033.0" width="1.8" height="6" fill="#000"/>
<rect x="337.7" y="2033.0" width="1.8" height="6" fill="#000"/>
<rect x="353.8" y="2033.0" width="1.8" height="6" fill="#000"/>
<rect x="360.7" y="2033.0" width="1.8" height="6" fill="#000"/>
<rect x="367.2" y="2033.0" width="1.8" height="6" fill="#000"/>
<rect x="422.3" y="2033.0" width="1.8" height="6" fill="#000"/>
<rect x="444.6" y="2033.0" width="1.8" height="6" fill="#000"/>
<rect x="461.7" y="2033.0" width="1.8" height="6" fill="#000"/>
<rect x="483.8" y="2033.0" width="1.8" height="6" fill="#000"/>
<rect x="492.9" y="2033.0" width="1.8" height="6" fill="#000"/>
<rect x="500.7" y="2033.0" width="1.8" height="6" fill="#000"/>
<rect x="545.8" y="2033.0" width="1.8" height="6" fill="#000"/>
<rect x="564.7" y="2033.0" width="1.8" height="6" fill="#000"/>
<rect x="579.3" y="2033.0" width="1.8" height="6" fill="#000"/>
<rect x="597.5" y="2033.0" width="1.8" height="6" fill="#000"/>
<rect x="606.7" y="2033.0" width="1.8" height="6" fill="#000"/>
<rect x="612.5" y="2033.0" width="1.8" height="6" fill="#000"/>
<rect x="655.0" y="2033.0" width="1.8" height="6" fill="#000"/>
<rect x="674.5" y="2033.0" width="1.8" height="6" fill="#000"/>
<rect x="688.0" y="2033.0" width="1.8" height="6" fill="#000"/>
<rect x="706.3" y="2033.0" width="1.8" height="6" fill="#000"/>
<rect x="713.0" y="2033.0" width="1.8" height="6" fill="#000"/>
<rect x="719.2" y="2033.0" width="1.8" height="6" fill="#000"/>
<rect x="259.5" y="2033.0" width="1.8" height="8.3" fill="#000"/>
<rect x="345.7" y="2033.0" width="1.8" height="8.3" fill="#000"/>
<rect x="474.0" y="2033.0" width="1.8" height="8.3" fill="#000"/>
<rect x="589.5" y="2033.0" width="1.8" height="8.3" fill="#000"/>
<rect x="698.3" y="2033.0" width="1.8" height="8.3" fill="#000"/>
<rect x="291.1" y="2033.0" width="21.1" height="6" fill="#000"/>
<rect x="291.1" y="2033.0" width="4.2" height="12" fill="#000"/>
<rect x="298.9" y="2033.0" width="4.2" height="12" fill="#000"/>
<rect x="308.0" y="2033.0" width="4.2" height="12" fill="#000"/>
<text transform="translate(308.0,2076.5) scale(0.86,1)" font-size="20.0" fill="#2a2a2a" stroke="#2a2a2a" stroke-width="0.35" letter-spacing="3.6">0</text>
<text transform="translate(510.5,2076.5) scale(0.86,1)" font-size="20.0" fill="#2a2a2a" stroke="#2a2a2a" stroke-width="0.35" letter-spacing="3.6">10</text>
<text transform="translate(534.5,2064.2) scale(0.86,1)" font-size="19.0" fill="#2a2a2a" stroke="#2a2a2a" stroke-width="0.35" letter-spacing="3.6">4</text>
<text transform="translate(622.3,2076.5) scale(0.86,1)" font-size="20.0" fill="#2a2a2a" stroke="#2a2a2a" stroke-width="0.35" letter-spacing="3.6">10</text>
<text transform="translate(646.3,2064.2) scale(0.86,1)" font-size="19.0" fill="#2a2a2a" stroke="#2a2a2a" stroke-width="0.35" letter-spacing="3.6">5</text>
<rect x="413.5" y="104.4" width="115.5" height="1.3" fill="#fff"/>
<rect x="341" y="1501.9" width="251" height="1.2" fill="#fff"/>
<text x="222.4" y="153.5" font-size="35.5" font-weight="normal" fill="#000" textLength="88.0" lengthAdjust="spacingAndGlyphs"  stroke="#000" stroke-width="0.55">Grey-</text>
<text x="318.7" y="153.5" font-size="35.5" font-weight="normal" fill="#000" textLength="209.3" lengthAdjust="spacingAndGlyphs"  stroke="#000" stroke-width="0.55">unstimulated</text>
<text x="223.2" y="199.5" font-size="35.5" font-weight="normal" fill="#ff0000" textLength="154.4" lengthAdjust="spacingAndGlyphs"  stroke="#ff0000" stroke-width="0.55">Red-eLNP</text>
<text x="385.4" y="199.5" font-size="35.5" font-weight="normal" fill="#ff0000" textLength="133.1" lengthAdjust="spacingAndGlyphs"  stroke="#ff0000" stroke-width="0.55">stimulus</text>
<text x="216.3" y="844.1" font-size="35.5" font-weight="normal" fill="#000" textLength="88.0" lengthAdjust="spacingAndGlyphs"  stroke="#000" stroke-width="0.55">Grey-</text>
<text x="312.6" y="844.1" font-size="35.5" font-weight="normal" fill="#000" textLength="209.3" lengthAdjust="spacingAndGlyphs"  stroke="#000" stroke-width="0.55">unstimulated</text>
<text x="217.1" y="890.1" font-size="35.5" font-weight="normal" fill="#ff0000" textLength="154.4" lengthAdjust="spacingAndGlyphs"  stroke="#ff0000" stroke-width="0.55">Red-eLNP</text>
<text x="379.3" y="890.1" font-size="35.5" font-weight="normal" fill="#ff0000" textLength="133.1" lengthAdjust="spacingAndGlyphs"  stroke="#ff0000" stroke-width="0.55">stimulus</text>
<text x="202.7" y="1546.3" font-size="35.5" font-weight="normal" fill="#000" textLength="88.0" lengthAdjust="spacingAndGlyphs"  stroke="#000" stroke-width="0.55">Grey-</text>
<text x="299.0" y="1546.3" font-size="35.5" font-weight="normal" fill="#000" textLength="209.3" lengthAdjust="spacingAndGlyphs"  stroke="#000" stroke-width="0.55">unstimulated</text>
<text x="203.5" y="1592.3" font-size="35.5" font-weight="normal" fill="#ff0000" textLength="154.4" lengthAdjust="spacingAndGlyphs"  stroke="#ff0000" stroke-width="0.55">Red-eLNP</text>
<text x="365.7" y="1592.3" font-size="35.5" font-weight="normal" fill="#ff0000" textLength="133.1" lengthAdjust="spacingAndGlyphs"  stroke="#ff0000" stroke-width="0.55">stimulus</text>
<rect x="77.9" y="120" width="2.1" height="1851" fill="#000"/>
<path d="M78.9,107.4 L68.1,128.9 L89.6,128.9 Z" fill="#000"/>
<text transform="translate(85.3,2147) rotate(-90)" font-size="36" font-weight="bold" textLength="156" lengthAdjust="spacingAndGlyphs">% of max</text>
<text x="164.0" y="2134.7" font-size="33.5" font-weight="bold" fill="#000" textLength="313.6" lengthAdjust="spacingAndGlyphs" >Bead fluorescence</text>
<rect x="501" y="2128.3" width="205" height="2.1" fill="#000"/>
<path d="M725.5,2129.4 L703.7,2118.9 L703.7,2139.9 Z" fill="#000"/>
<text x="840.4" y="49.7" font-size="46.0" font-weight="bold" fill="#262626" textLength="38.4" lengthAdjust="spacingAndGlyphs" >b.</text>
<rect x="885.25" y="170" width="2.5" height="1387.2" fill="#000"/>
<path d="M886.55,151.1 L871.5,186.8 L901.5,186.8 Z" fill="#000"/>
<text transform="translate(884.2,1887.3) rotate(-90)" font-size="39.5" font-weight="bold" textLength="306.6" lengthAdjust="spacingAndGlyphs">Internalized bead</text>
<text transform="translate(931.2,1900.7) rotate(-90)" font-size="39.5" font-weight="bold" textLength="333" lengthAdjust="spacingAndGlyphs">fluorescence (MFI)</text>
<text x="1215.2" y="86.7" font-size="37.8" font-weight="normal" fill="#000" textLength="87.2" lengthAdjust="spacingAndGlyphs"  stroke="#000" stroke-width="0.65">cDC2</text>
<path d="M1250.90,152.90 L1251.85,142.80 L1246.35,142.80 L1247.30,152.90Z M1250.00,154.46 L1259.65,149.98 L1256.90,145.22 L1248.20,151.34Z M1248.20,154.46 L1256.90,160.58 L1259.65,155.82 L1250.00,151.34Z M1247.30,152.90 L1246.35,163.00 L1251.85,163.00 L1250.90,152.90Z M1248.20,151.34 L1238.55,155.82 L1241.30,160.58 L1250.00,154.46Z M1250.00,151.34 L1241.30,145.22 L1238.55,149.98 L1248.20,154.46Z " fill="#000"/>
<circle cx="1249.1" cy="152.9" r="2.6" fill="#000"/>
<path d="M1272.30,152.90 L1273.25,142.80 L1267.75,142.80 L1268.70,152.90Z M1271.40,154.46 L1281.05,149.98 L1278.30,145.22 L1269.60,151.34Z M1269.60,154.46 L1278.30,160.58 L1281.05,155.82 L1271.40,151.34Z M1268.70,152.90 L1267.75,163.00 L1273.25,163.00 L1272.30,152.90Z M1269.60,151.34 L1259.95,155.82 L1262.70,160.58 L1271.40,154.46Z M1271.40,151.34 L1262.70,145.22 L1259.95,149.98 L1269.60,154.46Z " fill="#000"/>
<circle cx="1270.5" cy="152.9" r="2.6" fill="#000"/>
<path d="M1293.70,152.90 L1294.65,142.80 L1289.15,142.80 L1290.10,152.90Z M1292.80,154.46 L1302.45,149.98 L1299.70,145.22 L1291.00,151.34Z M1291.00,154.46 L1299.70,160.58 L1302.45,155.82 L1292.80,151.34Z M1290.10,152.90 L1289.15,163.00 L1294.65,163.00 L1293.70,152.90Z M1291.00,151.34 L1281.35,155.82 L1284.10,160.58 L1292.80,154.46Z M1292.80,151.34 L1284.10,145.22 L1281.35,149.98 L1291.00,154.46Z " fill="#000"/>
<circle cx="1291.9" cy="152.9" r="2.6" fill="#000"/>
<path d="M1315.10,152.90 L1316.05,142.80 L1310.55,142.80 L1311.50,152.90Z M1314.20,154.46 L1323.85,149.98 L1321.10,145.22 L1312.40,151.34Z M1312.40,154.46 L1321.10,160.58 L1323.85,155.82 L1314.20,151.34Z M1311.50,152.90 L1310.55,163.00 L1316.05,163.00 L1315.10,152.90Z M1312.40,151.34 L1302.75,155.82 L1305.50,160.58 L1314.20,154.46Z M1314.20,151.34 L1305.50,145.22 L1302.75,149.98 L1312.40,154.46Z " fill="#000"/>
<circle cx="1313.3" cy="152.9" r="2.6" fill="#000"/>
<line x1="1215.1" y1="177.5" x2="1346.9" y2="177.5" stroke="#000" stroke-width="5.6" stroke-linecap="round"/>
<rect x="1156.5" y="493.5" width="97.3" height="48.8" fill="#808080"/>
<path d="M1157.8,542.3 V494.8 H1252.5 V542.3" fill="none" stroke="#000" stroke-width="4.6"/>
<rect x="1307.0" y="441.8" width="97.8" height="100.5" fill="#fde9a9"/>
<path d="M1308.3,542.3 V443.1 H1403.5 V542.3" fill="none" stroke="#7a5c20" stroke-width="4.6"/>
<path d="M1193.5,487.7 H1217.5 M1193.5,498.8 H1217.5 M1205.5,487.7 V498.8" stroke="#000" stroke-width="1.6" fill="none"/>
<circle cx="1214.1" cy="446.5" r="6.8" fill="#000"/>
<circle cx="1196.5" cy="460.5" r="6.8" fill="#000"/>
<circle cx="1205.5" cy="458.9" r="6.8" fill="#000"/>
<circle cx="1179.3" cy="478.1" r="6.8" fill="#000"/>
<circle cx="1196.5" cy="480.0" r="6.8" fill="#000"/>
<circle cx="1187.9" cy="488.6" r="6.8" fill="#000"/>
<circle cx="1248.6" cy="492.5" r="6.8" fill="#000"/>
<circle cx="1162.0" cy="500.1" r="6.8" fill="#000"/>
<circle cx="1170.6" cy="498.2" r="6.8" fill="#000"/>
<circle cx="1179.3" cy="497.6" r="6.8" fill="#000"/>
<circle cx="1187.9" cy="504.9" r="6.8" fill="#000"/>
<circle cx="1205.1" cy="505.5" r="6.8" fill="#000"/>
<circle cx="1222.4" cy="505.5" r="6.8" fill="#000"/>
<circle cx="1231.0" cy="504.9" r="6.8" fill="#000"/>
<circle cx="1239.6" cy="500.7" r="6.8" fill="#000"/>
<circle cx="1205.5" cy="542.6" r="6.8" fill="#000"/>
<circle cx="1196.5" cy="499.0" r="6.8" fill="#000"/>
<circle cx="1214.0" cy="499.0" r="6.8" fill="#000"/>
<path d="M1342.8,434.5 H1368.8 M1342.8,445.5 H1368.8 M1355.8,434.5 V445.5" stroke="#7a5c20" stroke-width="1.6" fill="none"/>
<circle cx="1343.4" cy="410.1" r="6.8" fill="#fdd553"/>
<circle cx="1355.8" cy="411.1" r="6.8" fill="#fdd553"/>
<circle cx="1367.9" cy="409.7" r="6.8" fill="#fdd553"/>
<circle cx="1312.8" cy="428.9" r="6.8" fill="#fdd553"/>
<circle cx="1337.3" cy="431.2" r="6.8" fill="#fdd553"/>
<circle cx="1349.3" cy="430.2" r="6.8" fill="#fdd553"/>
<circle cx="1362.2" cy="435.4" r="6.8" fill="#fdd553"/>
<circle cx="1374.0" cy="433.1" r="6.8" fill="#fdd553"/>
<circle cx="1386.5" cy="431.2" r="6.8" fill="#fdd553"/>
<circle cx="1398.9" cy="429.3" r="6.8" fill="#fdd553"/>
<circle cx="1325.0" cy="439.4" r="6.8" fill="#fdd553"/>
<circle cx="1349.7" cy="445.5" r="6.8" fill="#fdd553"/>
<circle cx="1325.0" cy="467.0" r="6.8" fill="#fdd553"/>
<circle cx="1337.3" cy="460.9" r="6.8" fill="#fdd553"/>
<circle cx="1349.7" cy="466.2" r="6.8" fill="#fdd553"/>
<circle cx="1362.2" cy="465.6" r="6.8" fill="#fdd553"/>
<circle cx="1374.0" cy="472.4" r="6.8" fill="#fdd553"/>
<circle cx="1386.5" cy="466.0" r="6.8" fill="#fdd553"/>
<path d="M1105.9,189.9 V542.3 H1457" fill="none" stroke="#000" stroke-width="3.8" stroke-linejoin="miter"/>
<rect x="1090.5" y="189.6" width="15" height="4" fill="#000"/>
<text x="1085.1" y="203.9" font-size="34.0" font-weight="bold" text-anchor="end">100000</text>
<rect x="1090.5" y="259.7" width="15" height="4" fill="#000"/>
<text x="1085.1" y="274.0" font-size="34.0" font-weight="bold" text-anchor="end">80000</text>
<rect x="1090.5" y="329.9" width="15" height="4" fill="#000"/>
<text x="1085.1" y="344.2" font-size="34.0" font-weight="bold" text-anchor="end">60000</text>
<rect x="1090.5" y="400.0" width="15" height="4" fill="#000"/>
<text x="1085.1" y="414.3" font-size="34.0" font-weight="bold" text-anchor="end">40000</text>
<rect x="1090.5" y="470.2" width="15" height="4" fill="#000"/>
<text x="1085.1" y="484.5" font-size="34.0" font-weight="bold" text-anchor="end">20000</text>
<rect x="1090.5" y="540.3" width="15" height="4" fill="#000"/>
<text x="1085.1" y="554.6" font-size="34.0" font-weight="bold" text-anchor="end">0</text>
<rect x="1203.0" y="542.3" width="3.6" height="15.5" fill="#000"/>
<rect x="1353.8" y="542.3" width="3.6" height="15.5" fill="#000"/>
<text transform="translate(1212.8,585.2) rotate(-45)" font-size="34" font-weight="bold" text-anchor="end">Unstim</text>
<text transform="translate(1356.3,592.2) rotate(-45)" font-size="34" font-weight="bold" text-anchor="end">Activated (eLNP)</text>
<text x="1242.6" y="782.9" font-size="37.8" font-weight="normal" fill="#000" textLength="87.0" lengthAdjust="spacingAndGlyphs"  stroke="#000" stroke-width="0.65">cDC1</text>
<path d="M1255.50,828.90 L1256.45,818.80 L1250.95,818.80 L1251.90,828.90Z M1254.60,830.46 L1264.25,825.98 L1261.50,821.22 L1252.80,827.34Z M1252.80,830.46 L1261.50,836.58 L1264.25,831.82 L1254.60,827.34Z M1251.90,828.90 L1250.95,839.00 L1256.45,839.00 L1255.50,828.90Z M1252.80,827.34 L1243.15,831.82 L1245.90,836.58 L1254.60,830.46Z M1254.60,827.34 L1245.90,821.22 L1243.15,825.98 L1252.80,830.46Z " fill="#000"/>
<circle cx="1253.7" cy="828.9" r="2.6" fill="#000"/>
<path d="M1276.90,828.90 L1277.85,818.80 L1272.35,818.80 L1273.30,828.90Z M1276.00,830.46 L1285.65,825.98 L1282.90,821.22 L1274.20,827.34Z M1274.20,830.46 L1282.90,836.58 L1285.65,831.82 L1276.00,827.34Z M1273.30,828.90 L1272.35,839.00 L1277.85,839.00 L1276.90,828.90Z M1274.20,827.34 L1264.55,831.82 L1267.30,836.58 L1276.00,830.46Z M1276.00,827.34 L1267.30,821.22 L1264.55,825.98 L1274.20,830.46Z " fill="#000"/>
<circle cx="1275.1" cy="828.9" r="2.6" fill="#000"/>
<path d="M1298.30,828.90 L1299.25,818.80 L1293.75,818.80 L1294.70,828.90Z M1297.40,830.46 L1307.05,825.98 L1304.30,821.22 L1295.60,827.34Z M1295.60,830.46 L1304.30,836.58 L1307.05,831.82 L1297.40,827.34Z M1294.70,828.90 L1293.75,839.00 L1299.25,839.00 L1298.30,828.90Z M1295.60,827.34 L1285.95,831.82 L1288.70,836.58 L1297.40,830.46Z M1297.40,827.34 L1288.70,821.22 L1285.95,825.98 L1295.60,830.46Z " fill="#000"/>
<circle cx="1296.5" cy="828.9" r="2.6" fill="#000"/>
<path d="M1319.70,828.90 L1320.65,818.80 L1315.15,818.80 L1316.10,828.90Z M1318.80,830.46 L1328.45,825.98 L1325.70,821.22 L1317.00,827.34Z M1317.00,830.46 L1325.70,836.58 L1328.45,831.82 L1318.80,827.34Z M1316.10,828.90 L1315.15,839.00 L1320.65,839.00 L1319.70,828.90Z M1317.00,827.34 L1307.35,831.82 L1310.10,836.58 L1318.80,830.46Z M1318.80,827.34 L1310.10,821.22 L1307.35,825.98 L1317.00,830.46Z " fill="#000"/>
<circle cx="1317.9" cy="828.9" r="2.6" fill="#000"/>
<line x1="1219.8" y1="853.8" x2="1351.3" y2="853.8" stroke="#000" stroke-width="5.6" stroke-linecap="round"/>
<rect x="1161.3" y="1211.1" width="97.3" height="7.2" fill="#808080"/>
<path d="M1162.6,1218.3 V1212.4 H1257.3 V1218.3" fill="none" stroke="#000" stroke-width="4.6"/>
<rect x="1311.2" y="1164.6" width="97.8" height="53.7" fill="#fde9a9"/>
<path d="M1312.5,1218.3 V1165.9 H1407.7 V1218.3" fill="none" stroke="#7a5c20" stroke-width="4.6"/>
<circle cx="1209.9" cy="1197.3" r="6.8" fill="#000"/>
<circle cx="1171.6" cy="1204.0" r="6.8" fill="#000"/>
<circle cx="1183.1" cy="1205.3" r="6.8" fill="#000"/>
<circle cx="1193.6" cy="1205.9" r="6.8" fill="#000"/>
<circle cx="1165.9" cy="1210.7" r="6.8" fill="#000"/>
<circle cx="1177.3" cy="1212.0" r="6.8" fill="#000"/>
<circle cx="1187.9" cy="1215.5" r="6.8" fill="#000"/>
<circle cx="1199.4" cy="1211.1" r="6.8" fill="#000"/>
<circle cx="1209.9" cy="1212.0" r="6.8" fill="#000"/>
<circle cx="1220.4" cy="1208.2" r="6.8" fill="#000"/>
<circle cx="1226.2" cy="1212.0" r="6.8" fill="#000"/>
<circle cx="1235.8" cy="1210.1" r="6.8" fill="#000"/>
<circle cx="1247.3" cy="1205.0" r="6.8" fill="#000"/>
<circle cx="1242.5" cy="1211.1" r="6.8" fill="#000"/>
<circle cx="1253.0" cy="1214.9" r="6.8" fill="#000"/>
<path d="M1347.4,1158.4 H1373.0 M1347.4,1168.0 H1373.0 M1360.2,1158.4 V1168.0" stroke="#fdd553" stroke-width="1.6" fill="none"/>
<circle cx="1354.9" cy="1131.6" r="6.8" fill="#fdd553"/>
<circle cx="1393.4" cy="1136.0" r="6.8" fill="#fdd553"/>
<circle cx="1326.2" cy="1140.6" r="6.8" fill="#fdd553"/>
<circle cx="1335.7" cy="1142.1" r="6.8" fill="#fdd553"/>
<circle cx="1345.3" cy="1150.2" r="6.8" fill="#fdd553"/>
<circle cx="1354.9" cy="1146.0" r="6.8" fill="#fdd553"/>
<circle cx="1364.5" cy="1144.4" r="6.8" fill="#fdd553"/>
<circle cx="1374.6" cy="1144.0" r="6.8" fill="#fdd553"/>
<circle cx="1326.2" cy="1173.7" r="6.8" fill="#fdd553"/>
<circle cx="1316.6" cy="1182.0" r="6.8" fill="#fdd553"/>
<circle cx="1335.7" cy="1179.5" r="6.8" fill="#fdd553"/>
<circle cx="1345.3" cy="1177.6" r="6.8" fill="#fdd553"/>
<circle cx="1354.9" cy="1183.3" r="6.8" fill="#fdd553"/>
<circle cx="1364.5" cy="1178.9" r="6.8" fill="#fdd553"/>
<circle cx="1374.0" cy="1182.7" r="6.8" fill="#fdd553"/>
<circle cx="1383.6" cy="1181.4" r="6.8" fill="#fdd553"/>
<circle cx="1393.2" cy="1182.7" r="6.8" fill="#fdd553"/>
<circle cx="1403.3" cy="1180.1" r="6.8" fill="#fdd553"/>
<path d="M1110.0,866.3 V1028.1 M1110.0,1058.4 V1218.3 H1460" fill="none" stroke="#000" stroke-width="3.8"/>
<path d="M1099.3,1028.1 H1120.2 M1099.3,1058.4 H1120.2" stroke="#000" stroke-width="4.2"/>
<rect x="1091.5" y="866.3" width="18.5" height="4" fill="#000"/>
<text x="1084.8" y="880.6" font-size="34.0" font-weight="bold" text-anchor="end">100000</text>
<rect x="1091.5" y="912.1" width="18.5" height="4" fill="#000"/>
<text x="1084.8" y="926.4" font-size="34.0" font-weight="bold" text-anchor="end">80000</text>
<rect x="1091.5" y="957.8" width="18.5" height="4" fill="#000"/>
<text x="1084.8" y="972.1" font-size="34.0" font-weight="bold" text-anchor="end">60000</text>
<rect x="1091.5" y="1003.1" width="18.5" height="4" fill="#000"/>
<text x="1084.8" y="1017.4" font-size="34.0" font-weight="bold" text-anchor="end">40000</text>
<rect x="1095.6" y="1109.8" width="14.4" height="4" fill="#000"/>
<text x="1089.3" y="1124.1" font-size="34.0" font-weight="bold" text-anchor="end">20000</text>
<rect x="1095.6" y="1216.3" width="14.4" height="4" fill="#000"/>
<text x="1089.3" y="1230.6" font-size="34.0" font-weight="bold" text-anchor="end">0</text>
<rect x="1208.1" y="1218.3" width="3.6" height="15.5" fill="#000"/>
<rect x="1358.4" y="1218.3" width="3.6" height="15.5" fill="#000"/>
<text transform="translate(1217.9,1261.2) rotate(-45)" font-size="34" font-weight="bold" text-anchor="end">Unstim</text>
<text transform="translate(1360.9,1268.2) rotate(-45)" font-size="34" font-weight="bold" text-anchor="end">Activated (eLNP)</text>
<text x="1224.3" y="1479.8" font-size="37.8" font-weight="normal" fill="#000" textLength="91.4" lengthAdjust="spacingAndGlyphs"  stroke="#000" stroke-width="0.65">CD14</text>
<text x="1316.0" y="1464.9" font-size="25.0" font-weight="normal" fill="#000" textLength="43.3" lengthAdjust="spacingAndGlyphs"  stroke="#000" stroke-width="0.35">dim</text>
<path d="M1272.10,1522.10 L1273.05,1512.00 L1267.55,1512.00 L1268.50,1522.10Z M1271.20,1523.66 L1280.85,1519.18 L1278.10,1514.42 L1269.40,1520.54Z M1269.40,1523.66 L1278.10,1529.78 L1280.85,1525.02 L1271.20,1520.54Z M1268.50,1522.10 L1267.55,1532.20 L1273.05,1532.20 L1272.10,1522.10Z M1269.40,1520.54 L1259.75,1525.02 L1262.50,1529.78 L1271.20,1523.66Z M1271.20,1520.54 L1262.50,1514.42 L1259.75,1519.18 L1269.40,1523.66Z " fill="#000"/>
<circle cx="1270.3" cy="1522.1" r="2.6" fill="#000"/>
<path d="M1293.50,1522.10 L1294.45,1512.00 L1288.95,1512.00 L1289.90,1522.10Z M1292.60,1523.66 L1302.25,1519.18 L1299.50,1514.42 L1290.80,1520.54Z M1290.80,1523.66 L1299.50,1529.78 L1302.25,1525.02 L1292.60,1520.54Z M1289.90,1522.10 L1288.95,1532.20 L1294.45,1532.20 L1293.50,1522.10Z M1290.80,1520.54 L1281.15,1525.02 L1283.90,1529.78 L1292.60,1523.66Z M1292.60,1520.54 L1283.90,1514.42 L1281.15,1519.18 L1290.80,1523.66Z " fill="#000"/>
<circle cx="1291.7" cy="1522.1" r="2.6" fill="#000"/>
<line x1="1215.0" y1="1547.4" x2="1346.6" y2="1547.4" stroke="#000" stroke-width="5.6" stroke-linecap="round"/>
<rect x="1156.5" y="1837.3" width="97.4" height="74.5" fill="#808080"/>
<path d="M1157.8,1911.8 V1838.6 H1252.6 V1911.8" fill="none" stroke="#000" stroke-width="4.6"/>
<rect x="1307.0" y="1768.1" width="97.8" height="143.7" fill="#fde9a9"/>
<path d="M1308.3,1911.8 V1769.4 H1403.5 V1911.8" fill="none" stroke="#7a5c20" stroke-width="4.6"/>
<path d="M1192.8,1822.6 H1218.2 M1192.8,1850.0 H1218.2 M1205.5,1822.6 V1850.0" stroke="#000" stroke-width="1.6" fill="none"/>
<circle cx="1162.4" cy="1775.0" r="6.8" fill="#000"/>
<circle cx="1174.5" cy="1775.0" r="6.8" fill="#000"/>
<circle cx="1186.9" cy="1780.5" r="6.8" fill="#000"/>
<circle cx="1199.0" cy="1781.7" r="6.8" fill="#000"/>
<circle cx="1211.2" cy="1781.7" r="6.8" fill="#000"/>
<circle cx="1223.7" cy="1780.5" r="6.8" fill="#000"/>
<circle cx="1236.1" cy="1775.0" r="6.8" fill="#000"/>
<circle cx="1248.6" cy="1775.0" r="6.8" fill="#000"/>
<circle cx="1199.0" cy="1820.4" r="6.8" fill="#000"/>
<circle cx="1211.2" cy="1820.4" r="6.8" fill="#000"/>
<circle cx="1205.5" cy="1881.1" r="6.8" fill="#000"/>
<circle cx="1180.6" cy="1895.4" r="6.8" fill="#000"/>
<circle cx="1205.5" cy="1896.0" r="6.8" fill="#000"/>
<circle cx="1168.7" cy="1901.8" r="6.8" fill="#000"/>
<circle cx="1193.1" cy="1901.8" r="6.8" fill="#000"/>
<circle cx="1217.6" cy="1903.3" r="6.8" fill="#000"/>
<circle cx="1230.0" cy="1901.8" r="6.8" fill="#000"/>
<circle cx="1242.5" cy="1902.1" r="6.8" fill="#000"/>
<path d="M1347.0,1755.2 H1364.6 M1347.0,1777.3 H1364.6 M1355.8,1755.2 V1777.3" stroke="#fdd553" stroke-width="1.6" fill="none"/>
<circle cx="1355.8" cy="1606.2" r="6.8" fill="#fdd553"/>
<circle cx="1370.2" cy="1732.6" r="6.8" fill="#fdd553"/>
<circle cx="1312.8" cy="1748.5" r="6.8" fill="#fdd553"/>
<circle cx="1341.5" cy="1744.7" r="6.8" fill="#fdd553"/>
<circle cx="1370.2" cy="1749.9" r="6.8" fill="#fdd553"/>
<circle cx="1398.9" cy="1744.7" r="6.8" fill="#fdd553"/>
<circle cx="1341.5" cy="1760.0" r="6.8" fill="#fdd553"/>
<circle cx="1398.9" cy="1760.0" r="6.8" fill="#fdd553"/>
<circle cx="1312.8" cy="1769.2" r="6.8" fill="#fdd553"/>
<circle cx="1370.2" cy="1775.4" r="6.8" fill="#fdd553"/>
<circle cx="1341.5" cy="1779.6" r="6.8" fill="#fdd553"/>
<circle cx="1312.8" cy="1785.3" r="6.8" fill="#fdd553"/>
<circle cx="1398.9" cy="1795.8" r="6.8" fill="#fdd553"/>
<circle cx="1341.5" cy="1802.2" r="6.8" fill="#fdd553"/>
<circle cx="1312.8" cy="1806.0" r="6.8" fill="#fdd553"/>
<circle cx="1370.2" cy="1811.4" r="6.8" fill="#fdd553"/>
<circle cx="1398.9" cy="1810.4" r="6.8" fill="#fdd553"/>
<circle cx="1312.8" cy="1823.6" r="6.8" fill="#fdd553"/>
<path d="M1105.9,1559.1 V1911.8 H1457" fill="none" stroke="#000" stroke-width="3.8"/>
<rect x="1090.5" y="1558.8" width="15" height="4" fill="#000"/>
<text x="1085.1" y="1573.1" font-size="34.0" font-weight="bold" text-anchor="end">100000</text>
<rect x="1090.5" y="1629.0" width="15" height="4" fill="#000"/>
<text x="1085.1" y="1643.3" font-size="34.0" font-weight="bold" text-anchor="end">80000</text>
<rect x="1090.5" y="1699.2" width="15" height="4" fill="#000"/>
<text x="1085.1" y="1713.5" font-size="34.0" font-weight="bold" text-anchor="end">60000</text>
<rect x="1090.5" y="1769.4" width="15" height="4" fill="#000"/>
<text x="1085.1" y="1783.7" font-size="34.0" font-weight="bold" text-anchor="end">40000</text>
<rect x="1090.5" y="1839.6" width="15" height="4" fill="#000"/>
<text x="1085.1" y="1853.9" font-size="34.0" font-weight="bold" text-anchor="end">20000</text>
<rect x="1090.5" y="1909.8" width="15" height="4" fill="#000"/>
<text x="1085.1" y="1924.1" font-size="34.0" font-weight="bold" text-anchor="end">0</text>
<rect x="1203.7" y="1911.8" width="3.6" height="15.5" fill="#000"/>
<rect x="1354.0" y="1911.8" width="3.6" height="15.5" fill="#000"/>
<text transform="translate(1213.5,1955.2) rotate(-45)" font-size="34" font-weight="bold" text-anchor="end">Unstim</text>
<text transform="translate(1356.5,1962.2) rotate(-45)" font-size="34" font-weight="bold" text-anchor="end">Activated (eLNP)</text>
</svg></body></html>
